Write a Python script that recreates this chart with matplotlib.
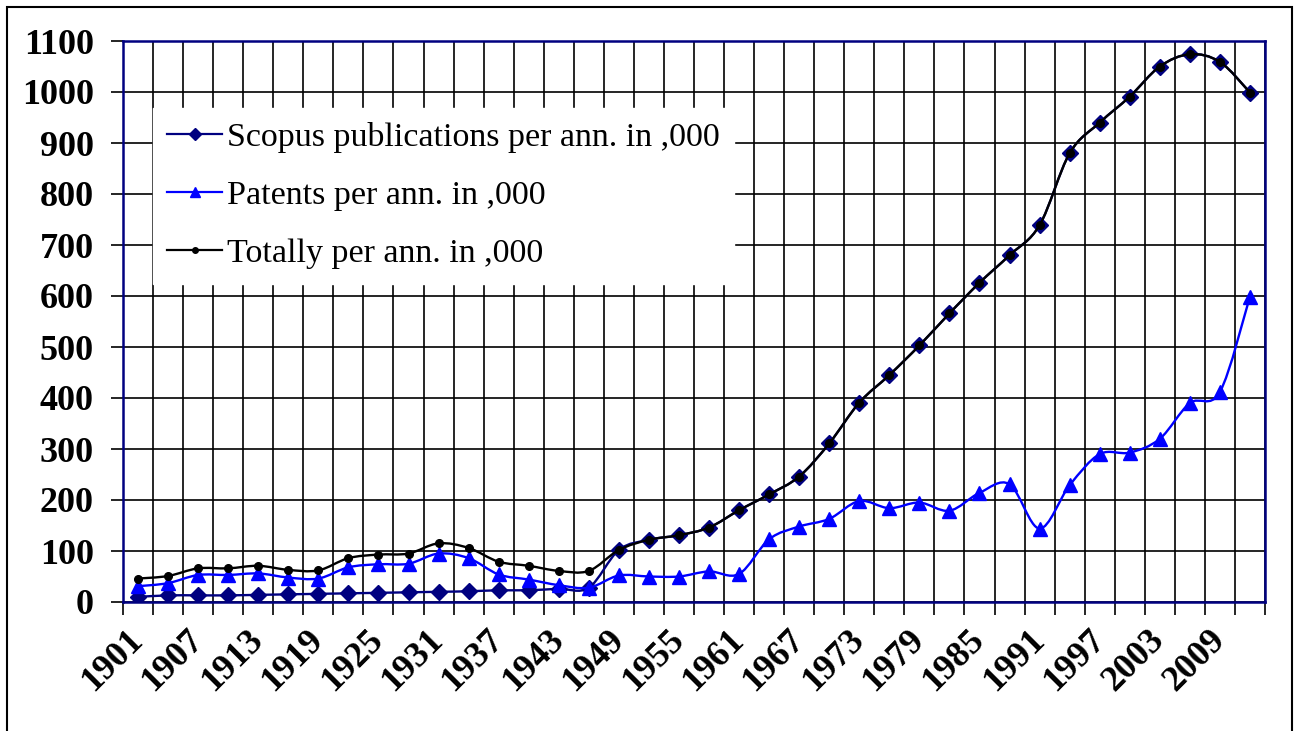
import numpy as np
import matplotlib
matplotlib.use('Agg')
from matplotlib import pyplot as plt
from matplotlib.lines import Line2D
from matplotlib.patches import Rectangle, PathPatch
from matplotlib.path import Path

years = list(range(1901, 2013, 3))

scopus = [10, 13, 13, 13, 14, 15, 16, 17, 18, 19, 20,
          21, 23, 23, 26, 28, 102, 122, 131, 146, 180,
          211, 246, 311, 391, 445, 503, 566, 626, 680, 739,
          880, 940, 991, 1050, 1074, 1059, 999]

patents = [31, 37, 53, 53, 56, 48, 46, 68, 74, 75, 95,
           86, 54, 44, 33, 28, 52, 50, 50, 60, 55,
           123, 148, 163, 198, 184, 195, 179, 214, 231, 144,
           229, 290, 293, 320, 390, 412, 599]

totals = [46, 51, 66, 66, 71, 63, 62, 86, 93, 95, 115,
          106, 79, 71, 61, 61, 102, 122, 131, 146, 180,
          211, 246, 311, 391, 445, 503, 566, 626, 680, 739,
          880, 940, 991, 1050, 1074, 1059, 999]

labels = ['Scopus publications per ann. in ,000',
          'Patents per ann. in ,000',
          'Totally per ann. in ,000']

navy = '#000080'
blue = '#0000FF'
serif = ['Liberation Serif', 'DejaVu Serif']


def smooth_path(xs, ys):
    # Excel-like smoothed line: Catmull-Rom segments as cubic Beziers
    pts = np.column_stack([xs, ys]).astype(float)
    verts = [pts[0]]
    codes = [Path.MOVETO]
    n = len(pts)
    for i in range(n - 1):
        p0 = pts[max(i - 1, 0)]
        p1 = pts[i]
        p2 = pts[i + 1]
        p3 = pts[min(i + 2, n - 1)]
        c1 = p1 + (p2 - p0) / 6.0
        c2 = p2 - (p3 - p1) / 6.0
        verts += [c1, c2, p2]
        codes += [Path.CURVE4] * 3
    return Path(verts, codes)


fig = plt.figure(figsize=(12.98, 7.31), dpi=100)
ax = fig.add_axes([123 / 1298, 1 - 602 / 731, (1265 - 123) / 1298, (602 - 41) / 731])

x = np.arange(len(years))

series = [(scopus, navy, 'D', 8.5, 3),
          (patents, blue, '^', 10.5, 4),
          (totals, 'black', 'o', 5.5, 5)]
for ys, col, mk, ms, z in series:
    ax.add_patch(PathPatch(smooth_path(x, ys), fill=False, edgecolor=col,
                           lw=1.7, zorder=z))
    ax.plot(x, ys, linestyle='none', marker=mk, ms=ms, mfc=col, mec=col,
            zorder=z)

ax.set_xlim(-0.5, len(years) - 0.5)
ax.set_ylim(0, 1100)
ax.set_yticks(np.arange(0, 1101, 100))
ax.set_yticklabels([str(v) for v in range(0, 1101, 100)],
                   fontfamily=serif, fontweight='bold', fontsize=26)

# category boundaries carry ticks and grid, centres carry the labels
ax.set_xticks(np.arange(-0.5, len(years), 1))
ax.set_xticklabels([])
ax.set_xticks(x, minor=True)
ax.set_xticklabels([str(y) if i % 2 == 0 else '' for i, y in enumerate(years)],
                   minor=True, rotation=45, ha='right', va='center',
                   rotation_mode='anchor', fontfamily=serif,
                   fontweight='bold', fontsize=26)
ax.tick_params(axis='x', which='minor', length=0, pad=24)
ax.tick_params(axis='x', which='major', length=9, width=1.2, color='black')
ax.tick_params(axis='y', length=9, width=1.2, color='black', pad=12)

ax.grid(True, which='major', color='black', lw=1.2)
ax.set_axisbelow(True)
for s in ax.spines.values():
    s.set_color(navy)
    s.set_linewidth(1.8)

handles = [
    Line2D([], [], color=navy, lw=1.6, marker='D', ms=6.5, mfc=navy, mec=navy),
    Line2D([], [], color=blue, lw=1.6, marker='^', ms=7.5, mfc=blue, mec=blue),
    Line2D([], [], color='black', lw=1.6, marker='o', ms=4, mfc='black', mec='black'),
]
leg = ax.legend(handles, labels, loc='upper left',
                bbox_to_anchor=((153 - 123) / 1142, (602 - 108) / 561),
                prop={'family': serif, 'size': 24.5}, frameon=True,
                fancybox=False, framealpha=1, edgecolor='white',
                handlelength=1.6, handletextpad=0.15, labelspacing=0.8,
                borderpad=0.42, borderaxespad=0)
leg.set_zorder(10)

fig.patches.append(Rectangle((7 / 1298, -0.1), (1292 - 7) / 1298, 1.1 - 7 / 731,
                             transform=fig.transFigure, fill=False,
                             edgecolor='black', lw=1.5))

plt.savefig('out.png', dpi=100)
plt.close()
